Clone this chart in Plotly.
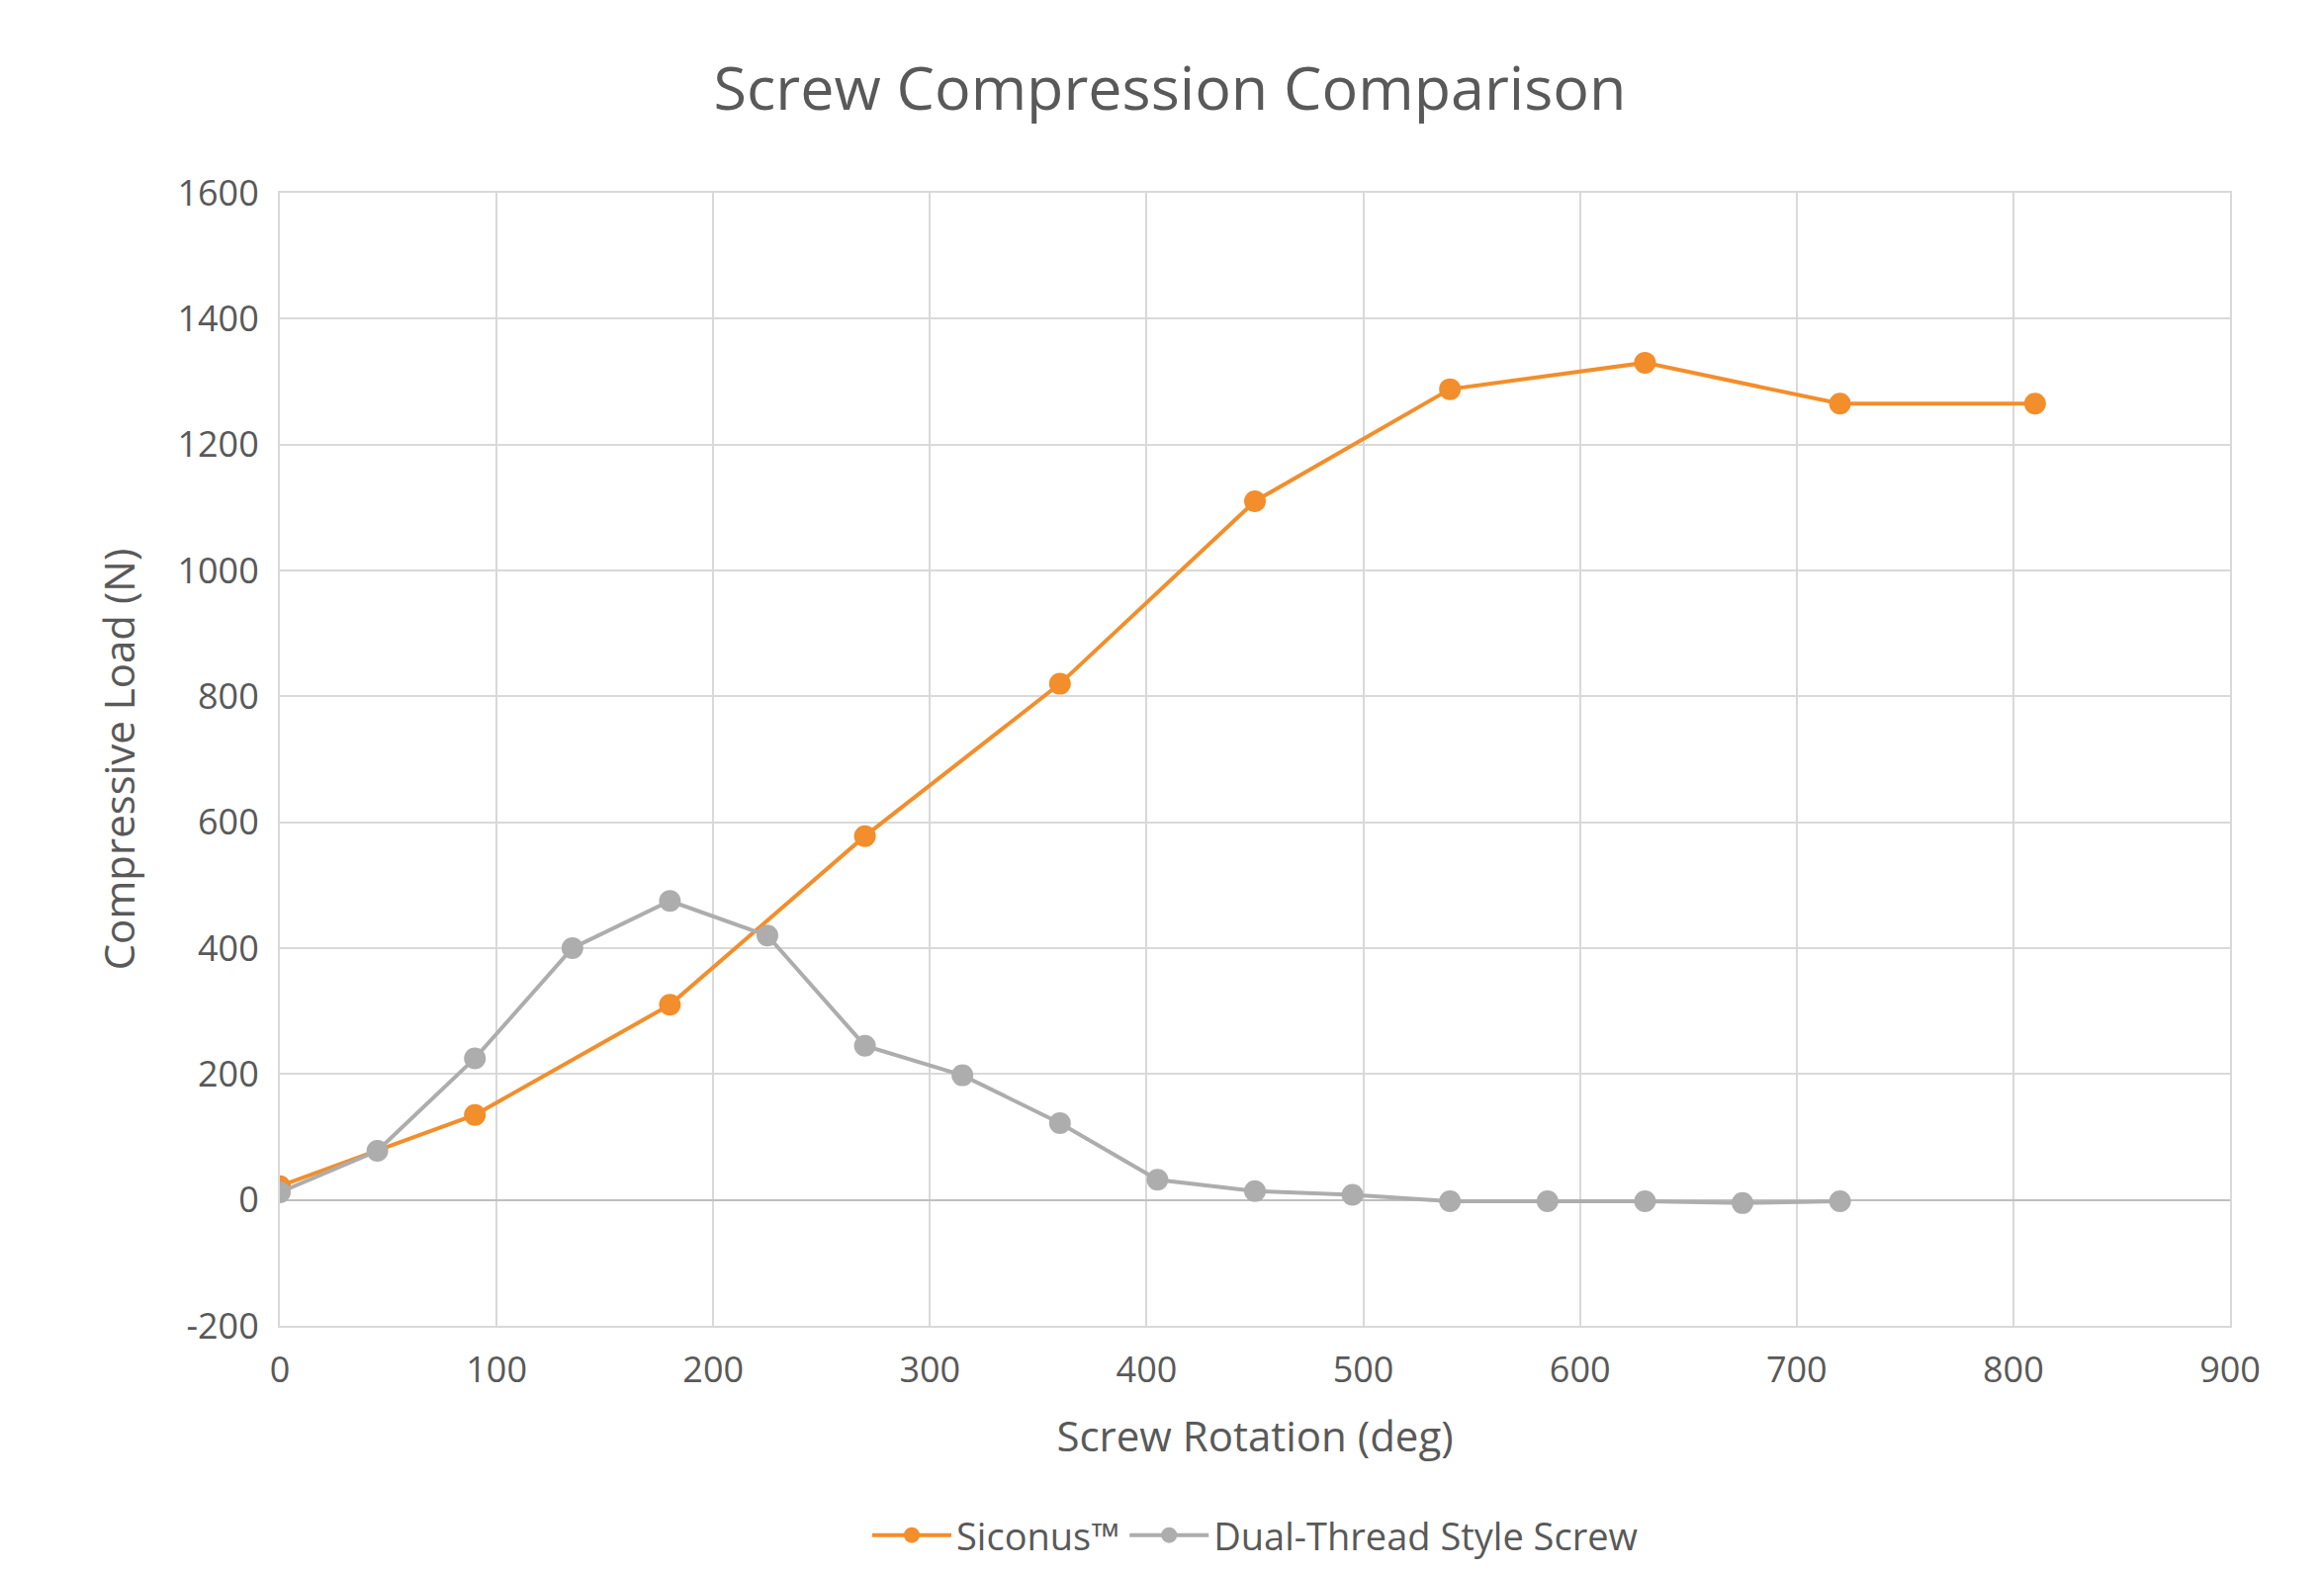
import plotly.graph_objects as go

siconus_x = [0, 90, 180, 270, 360, 450, 540, 630, 720, 810]
siconus_y = [22, 135, 310, 578, 820, 1110, 1288, 1330, 1265, 1265]
dual_x = [0, 45, 90, 135, 180, 225, 270, 315, 360, 405, 450, 495, 540, 585, 630, 675, 720]
dual_y = [12, 78, 225, 400, 475, 420, 245, 198, 122, 32, 14, 8, -2, -2, -2, -5, -2]
y_ticks = [-200, 0, 200, 400, 600, 800, 1000, 1200, 1400, 1600]

fig = go.Figure()
fig.add_trace(go.Scatter(x=siconus_x, y=siconus_y, name="Siconus™", mode="lines+markers",
                         line=dict(color="#F28E2B", width=4), marker=dict(size=22, color="#F28E2B")))
fig.add_trace(go.Scatter(x=dual_x, y=dual_y, name="Dual-Thread Style Screw", mode="lines+markers",
                         line=dict(color="#ADADAD", width=4), marker=dict(size=22, color="#ADADAD")))

font = "Open Sans"
fig.update_layout(
    width=2350, height=1589,
    paper_bgcolor="white", plot_bgcolor="white",
    margin=dict(l=275, r=103, t=187, b=220),
    font=dict(family=font, color="#595959", size=36),
    title=dict(text="Screw Compression Comparison", x=0.5, y=0.962, xanchor="center",
               font=dict(size=61, color="#595959")),
    xaxis=dict(range=[0, 900], dtick=100, showgrid=True, gridcolor="#D9D9D9", gridwidth=2,
               zeroline=False, showline=True, linecolor="#D9D9D9", linewidth=2, mirror=True,
               title=dict(text="Screw Rotation (deg)", font=dict(size=42), standoff=30),
               ticklabelstandoff=12),
    yaxis=dict(range=[-200, 1600], tickvals=y_ticks, ticktext=[str(v) for v in y_ticks],
               showgrid=True, gridcolor="#D9D9D9", gridwidth=2,
               zeroline=True, zerolinecolor="#BFBFBF", zerolinewidth=2,
               showline=True, linecolor="#D9D9D9", linewidth=2, mirror=True,
               ticklabelstandoff=12,
               title=dict(text="Compressive Load (N)", font=dict(size=42), standoff=30)),
    legend=dict(orientation="h", x=0.5, xanchor="center", y=-0.185, yanchor="middle",
                font=dict(size=38), itemwidth=80, entrywidth=0, tracegroupgap=0),
)
fig.write_html("out.html")
